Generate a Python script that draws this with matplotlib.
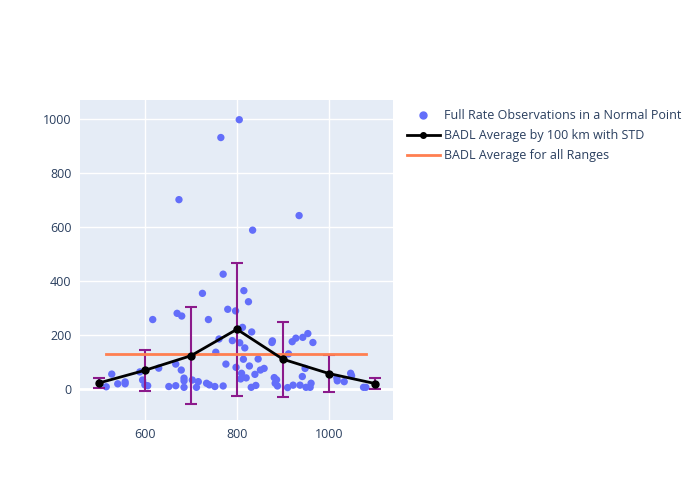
import numpy as np
import matplotlib.pyplot as plt
from matplotlib.lines import Line2D

plt.rcParams['font.family'] = ['Open Sans', 'DejaVu Sans']

# Scatter observations (range km, value)
obs_x = [516, 528, 541, 557, 557, 589, 595, 606, 617, 630, 652, 667, 667, 670, 674, 680,
         679, 685, 685, 685, 703, 712, 716, 725, 734, 740, 738, 752, 754, 761, 765, 770,
         770, 776, 780, 790, 797, 798, 805, 815, 825, 812, 806, 817, 832, 834, 814, 846,
         827, 810, 808, 820, 839, 851, 859, 831, 841, 877, 876, 881, 886, 883, 888, 912,
         920, 928, 943, 954, 965, 948, 942, 910, 922, 937, 950, 961, 959, 935, 1018, 1017,
         1033, 1047, 1049, 1075, 1080, 600]
obs_y = [8, 55, 19, 19, 26, 63, 33, 12, 257, 77, 9, 12, 92, 280, 701, 270,
         70, 40, 30, 6, 33, 6, 27, 354, 21, 15, 257, 9, 136, 185, 931, 425,
         11, 92, 295, 179, 289, 80, 997, 364, 323, 228, 171, 152, 211, 588, 110, 111,
         85, 58, 37, 41, 54, 70, 76, 6, 13, 178, 172, 42, 34, 21, 11, 130,
         175, 188, 191, 205, 172, 76, 46, 5, 14, 14, 6, 21, 6, 642, 30, 40,
         27, 58, 49, 6, 6, 15]

# Averages by 100 km with std
avg_x = [500, 600, 700, 800, 900, 1000, 1100]
avg_y = [22, 69, 123, 221, 110, 57, 20]
avg_std = [19, 75, 179, 247, 138, 67, 19]

# Overall average
all_avg = 130
all_range = [515, 1080]

fig = plt.figure(figsize=(7, 5), dpi=100)
ax = fig.add_axes([80 / 700, 80 / 500, 313 / 700, 320 / 500])
ax.set_facecolor('#E5ECF6')

ax.scatter(obs_x, obs_y, s=28, color='#636EFA', edgecolors='none', zorder=3)
ax.errorbar(avg_x, avg_y, yerr=avg_std, fmt='none', ecolor='#8B1A8B', elinewidth=1.5,
            capsize=4, capthick=1.5, zorder=4)
ax.plot(avg_x, avg_y, color='black', linewidth=2, marker='o', markersize=5, zorder=5)
ax.plot(all_range, [all_avg, all_avg], color='#FF7F50', linewidth=2, zorder=4)

ax.set_xlim(459, 1139)
ax.set_ylim(-115, 1070)
ax.set_xticks([600, 800, 1000])
ax.set_yticks([0, 200, 400, 600, 800, 1000])
ax.grid(True, color='white', linewidth=1)
ax.axhline(0, color='white', linewidth=2, zorder=1)
ax.set_axisbelow(True)
for s in ax.spines.values():
    s.set_visible(False)
ax.tick_params(length=0, labelsize=9, labelcolor='#2a3f5f', pad=6)

handles = [
    Line2D([], [], color='#636EFA', marker='o', linestyle='none', markersize=5),
    Line2D([], [], color='black', marker='o', markersize=4, linewidth=2),
    Line2D([], [], color='#FF7F50', linewidth=2),
]
labels = ['Full Rate Observations in a Normal Point', 'BADL Average by 100 km with STD',
          'BADL Average for all Ranges']
fig.legend(handles, labels, loc='upper left', bbox_to_anchor=(402 / 700, 1 - 104 / 500),
           frameon=False, fontsize=9, labelcolor='#2a3f5f', handlelength=2.6,
           borderaxespad=0, handletextpad=0.4, labelspacing=0.58)

fig.savefig('out.png')
